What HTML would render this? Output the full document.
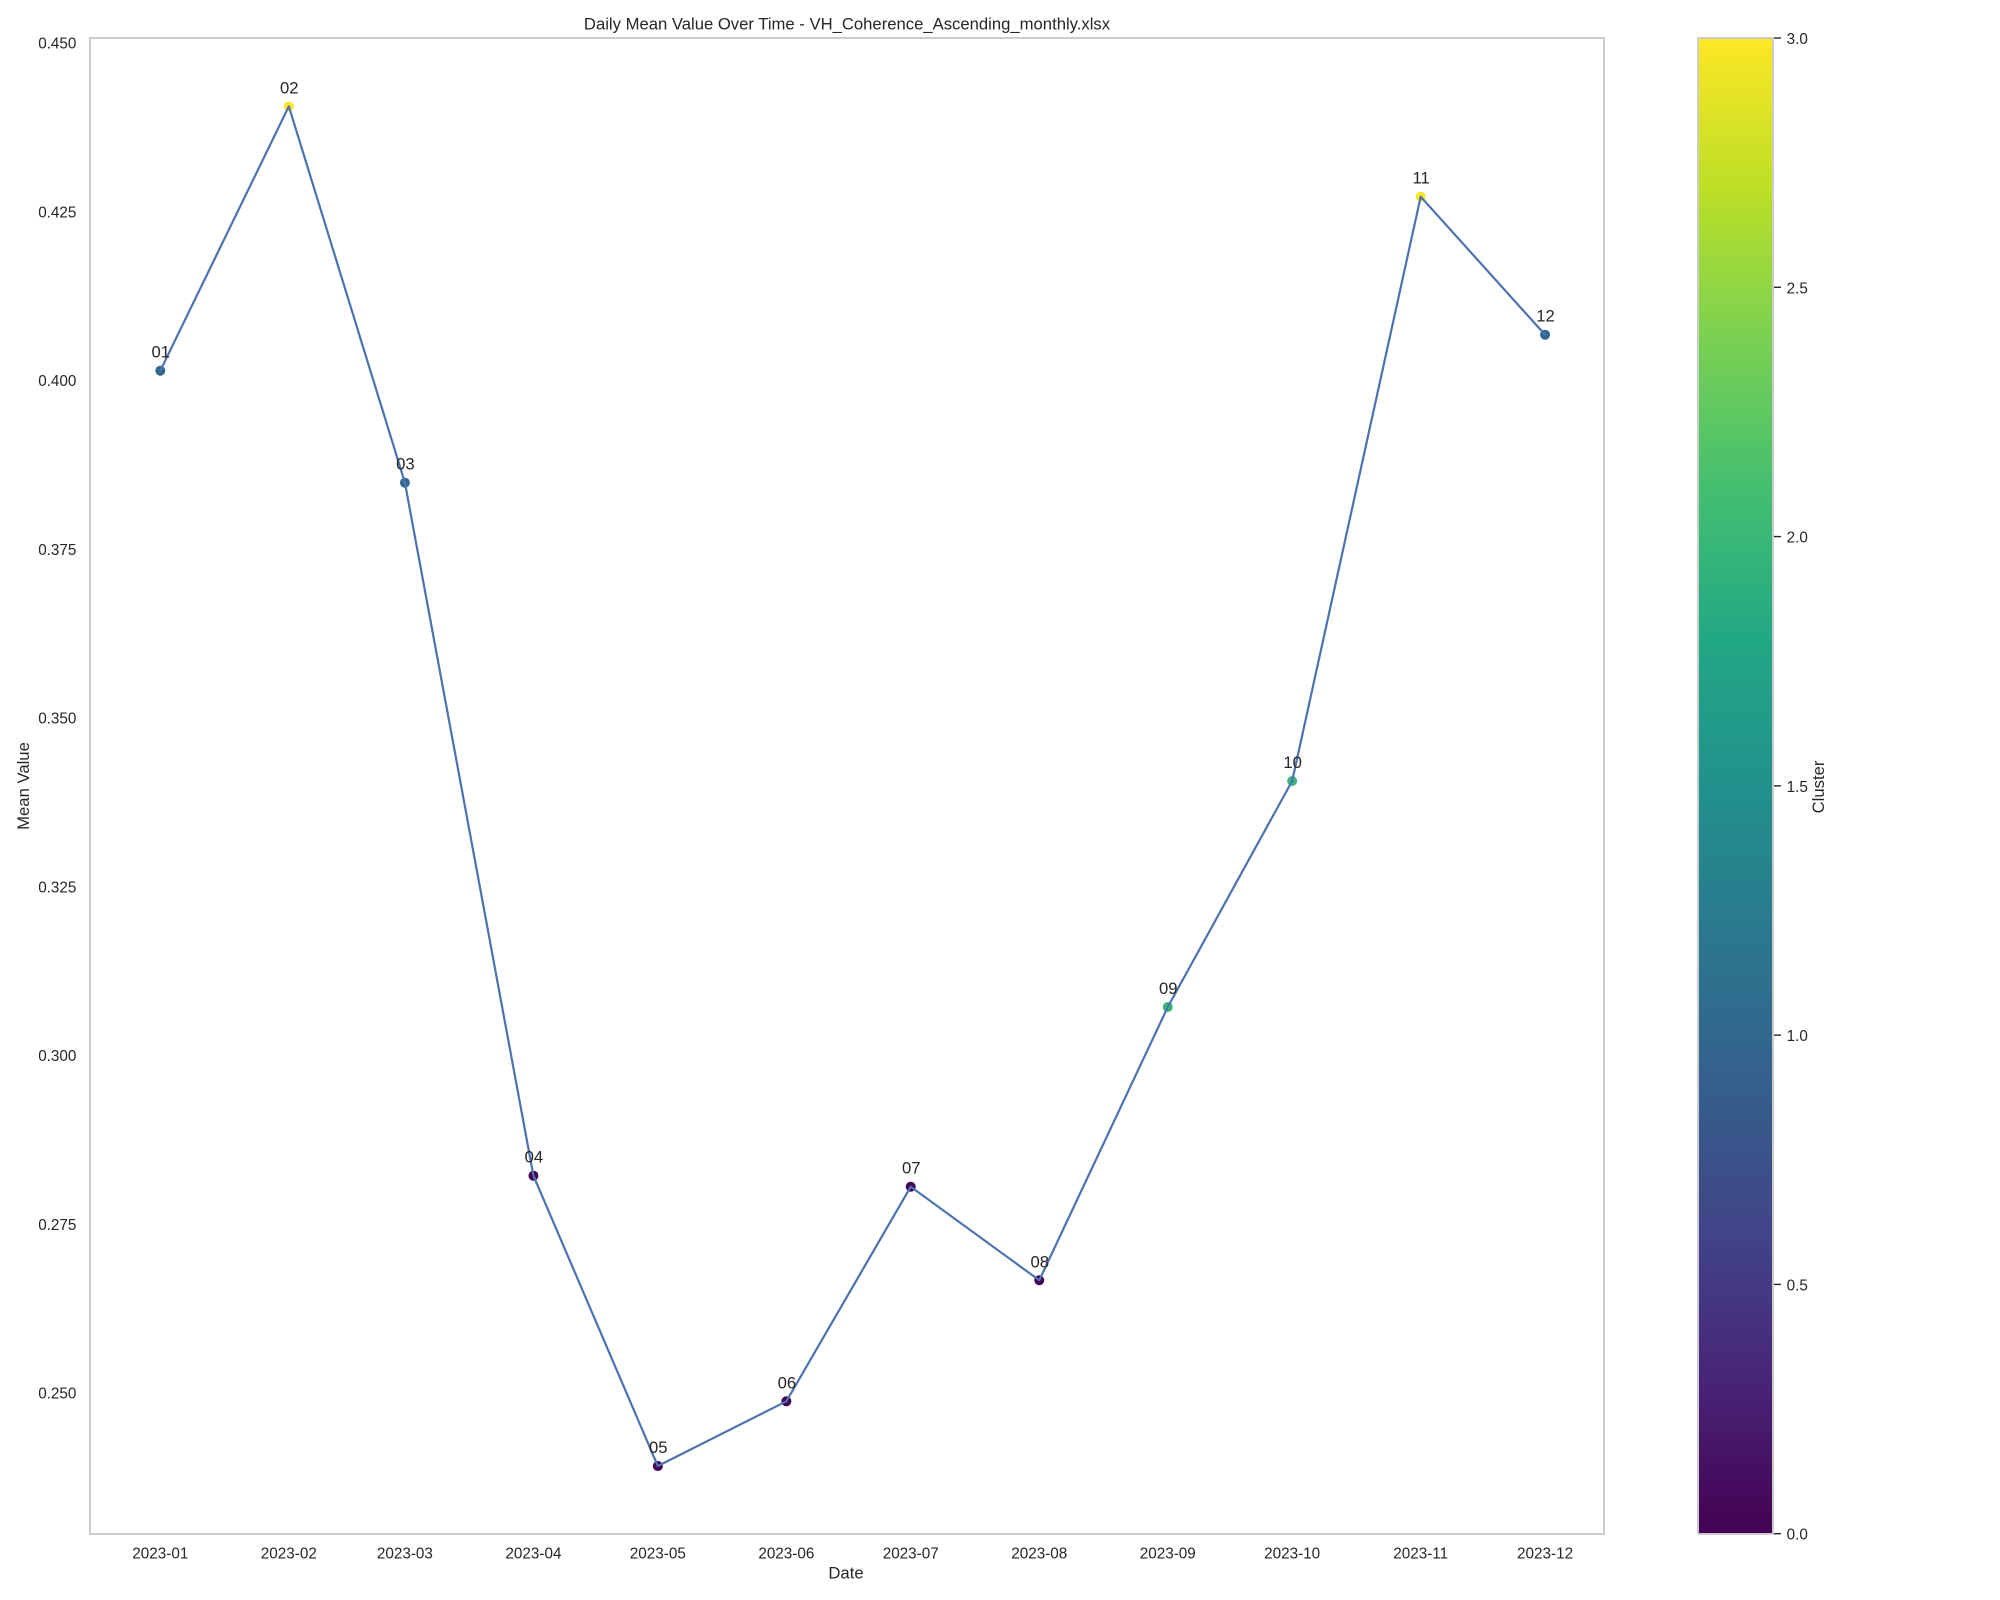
<!DOCTYPE html>
<html lang="en">
<head>
<meta charset="utf-8">
<title>Daily Mean Value Over Time</title>
<style>
html,body{margin:0;padding:0;background:#fff;}
svg{display:block;}
text{font-family:"Liberation Sans",Arial,sans-serif;fill:#262626;font-size:15.28px;}
.big{font-size:16.67px;}
</style>
</head>
<body>
<svg id="chart" xmlns="http://www.w3.org/2000/svg" width="2000" height="1600" viewBox="0 0 2000 1600">
  <rect x="0" y="0" width="2000" height="1600" fill="#ffffff"/>
  <text class="big" x="847" y="29.5" text-anchor="middle">Daily Mean Value Over Time - VH_Coherence_Ascending_monthly.xlsx</text>
  <rect x="90" y="38" width="1514" height="1496" fill="none" stroke="#cccccc" stroke-width="2"/>
  <g id="x-ticks"></g>
  <g id="y-ticks"></g>
  <g id="markers"></g>
  <path id="series-line" fill="none" stroke="#4c72b0" stroke-width="2.2" stroke-linejoin="round" stroke-linecap="square"/>
  <g id="point-labels"></g>
  <text class="big" x="846" y="1578.5" text-anchor="middle">Date</text>
  <text class="big" transform="translate(29 786) rotate(-90)" text-anchor="middle">Mean Value</text>
  <defs>
    <linearGradient id="viridis-gradient" x1="0" y1="1" x2="0" y2="0"></linearGradient>
  </defs>
  <rect id="colorbar" x="1698" y="38" width="75" height="1496" fill="url(#viridis-gradient)" stroke="#cccccc" stroke-width="2"/>
  <g id="colorbar-ticks"></g>
  <text class="big" transform="translate(1824 787) rotate(-90)" text-anchor="middle">Cluster</text>
</svg>
<script>
const months = ["2023-01","2023-02","2023-03","2023-04","2023-05","2023-06","2023-07","2023-08","2023-09","2023-10","2023-11","2023-12"];
const pointLabels = ["01","02","03","04","05","06","07","08","09","10","11","12"];
const meanValues = [0.40148,0.44065,0.38489,0.28222,0.23921,0.2488,0.28059,0.26673,0.30721,0.3407,0.42726,0.40681];
const clusters = [1,3,1,0,0,0,0,0,2,2,3,1];
const yTickValues = [0.45,0.425,0.4,0.375,0.35,0.325,0.3,0.275,0.25];
const colorbarTicks = [0,0.5,1,1.5,2,2.5,3];
const viridis = ["#440154","#482475","#414487","#355f8d","#2a788e","#21918c","#22a884","#44bf70","#7ad151","#bddf26","#fde725"];

const NS = "http://www.w3.org/2000/svg";
function dayOfYear(m){
  const p = m.split("-");
  return (Date.UTC(+p[0], +p[1]-1, 1) - Date.UTC(2023,0,1)) / 86400000;
}
function xScale(m){ return 160.3 + dayOfYear(m) * 4.146; }
function yScale(v){ return 43.2 + (0.45 - v) * 6750; }
function cbScale(c){ return 1533.7 - c * (1495.7 / 3); }
function hexToRgb(h){ return [1,3,5].map(function(i){ return parseInt(h.substr(i,2),16); }); }
function colorFor(c){
  const t = Math.max(0, Math.min(1, c / 3)) * (viridis.length - 1);
  const i = Math.min(Math.floor(t), viridis.length - 2);
  const f = t - i;
  const a = hexToRgb(viridis[i]);
  const b = hexToRgb(viridis[i+1]);
  return "rgb(" + a.map(function(v,k){ return Math.round(v + (b[k]-v)*f); }).join(",") + ")";
}
function svgEl(tag, parent, attrs){
  const el = document.createElementNS(NS, tag);
  Object.keys(attrs).forEach(function(k){ el.setAttribute(k, attrs[k]); });
  parent.appendChild(el);
  return el;
}

const xTicksG = document.getElementById("x-ticks");
months.forEach(function(m){
  const t = svgEl("text", xTicksG, {x: xScale(m), y: 1558.3, "text-anchor": "middle"});
  
  
  t.textContent = m;
});

const yTicksG = document.getElementById("y-ticks");
yTickValues.forEach(function(v){
  const t = svgEl("text", yTicksG, {x: 76.4, y: yScale(v) + 5.5, "text-anchor": "end"});
  
  
  t.textContent = v.toFixed(3);
});

const markersG = document.getElementById("markers");
months.forEach(function(m,i){
  const c = svgEl("circle", markersG, {cx: xScale(m), cy: yScale(meanValues[i]), r: 5, fill: colorFor(clusters[i])});
  
  
});

document.getElementById("series-line").setAttribute("d", months.map(function(m,i){
  return (i ? "L" : "M") + xScale(m).toFixed(2) + " " + yScale(meanValues[i]).toFixed(2);
}).join(" "));

const labelsG = document.getElementById("point-labels");
months.forEach(function(m,i){
  const t = svgEl("text", labelsG, {x: xScale(m) + 0.5, y: yScale(meanValues[i]) - 13, "text-anchor": "middle", "class": "big"});
  
  
  t.textContent = pointLabels[i];
});

const grad = document.getElementById("viridis-gradient");
viridis.forEach(function(col,i){
  svgEl("stop", grad, {offset: (i / (viridis.length - 1)), "stop-color": col});
});

const cbG = document.getElementById("colorbar-ticks");
colorbarTicks.forEach(function(c){
  const y = cbScale(c);
  const l = svgEl("line", cbG, {x1: 1774, x2: 1781, y1: y, y2: y, stroke: "#262626", "stroke-width": 1.4});
  
  
  const t = svgEl("text", cbG, {x: 1786.6, y: y + 6});
  
  
  t.textContent = c.toFixed(1);
});
</script>
</body>
</html>
